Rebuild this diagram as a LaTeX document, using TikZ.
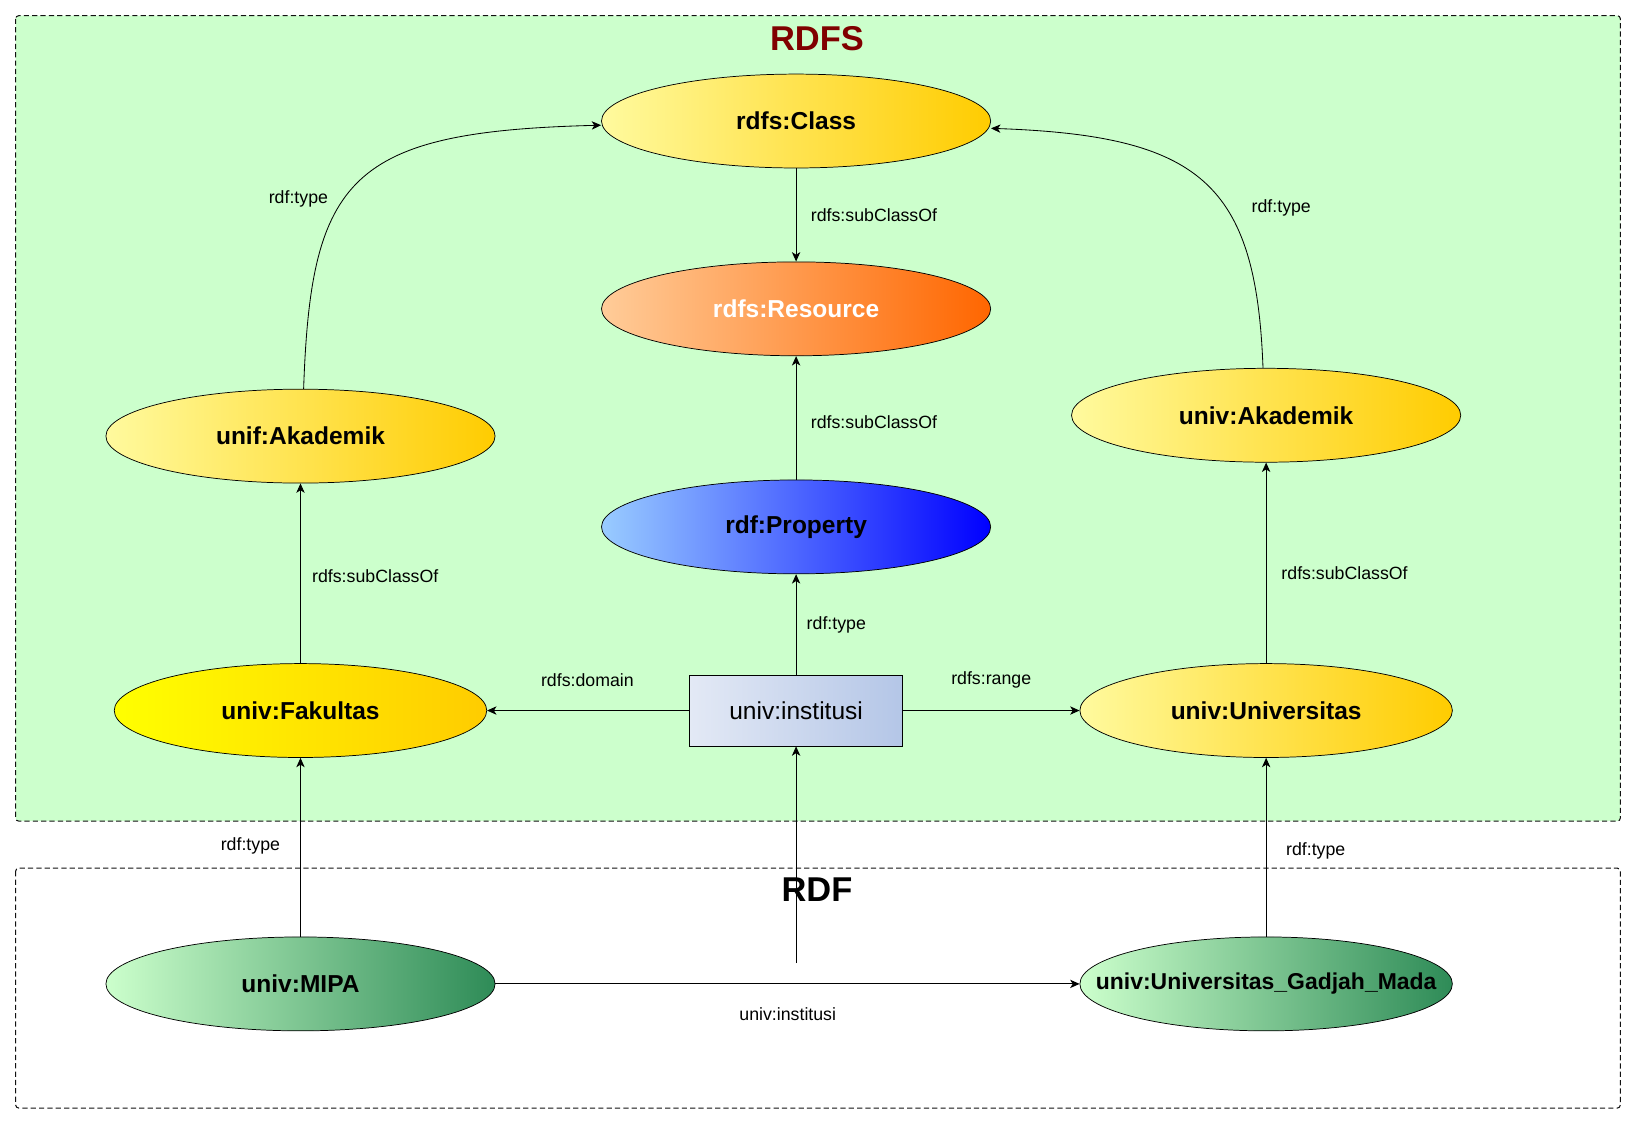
\documentclass[tikz,border=0pt]{standalone}
\usepackage{fontspec}
\setmainfont{Liberation Sans}
\usetikzlibrary{shapes.geometric,arrows.meta,calc}
\definecolor{rdfsbg}{HTML}{CCFFCC}
\definecolor{yl}{HTML}{FFFA9E}
\definecolor{yr}{HTML}{FFCC00}
\definecolor{fl}{HTML}{FFFF00}
\definecolor{ol}{HTML}{FFCC99}
\definecolor{or}{HTML}{FF6600}
\definecolor{bl}{HTML}{99CCFF}
\definecolor{br}{HTML}{0000FF}
\definecolor{gl}{HTML}{CCFFCC}
\definecolor{gr}{HTML}{2E8B57}
\definecolor{il}{HTML}{E3E9F5}
\definecolor{ir}{HTML}{B4C6E7}
\definecolor{titlered}{HTML}{800000}
\definecolor{framegray}{HTML}{111111}
\begin{document}
\begin{tikzpicture}[x=1pt,y=-1pt,
  frame/.style={draw=framegray, line width=1pt, dash pattern=on 5pt off 3pt, rounded corners=3pt},
  ell/.style={ellipse, draw=black, line width=0.7pt, inner sep=0pt, minimum width=373pt, minimum height=90pt,
    font=\bfseries\fontsize{23.5}{28}\selectfont},
  narrow/.style={minimum width=357pt},
  yel/.style={left color=yl, right color=yr},
  fak/.style={left color=fl, right color=yr},
  org/.style={left color=ol, right color=or, text=white},
  blu/.style={left color=bl, right color=br},
  grn/.style={left color=gl, right color=gr},
  boxnode/.style={rectangle, draw=black, line width=0.7pt, minimum width=204pt, minimum height=68pt, inner sep=0pt,
    left color=il, right color=ir, font=\fontsize{23.5}{28}\selectfont},
  lbl/.style={font=\fontsize{17}{20}\selectfont, inner sep=0pt},
  ttl/.style={font=\bfseries\fontsize{33}{38}\selectfont, inner sep=0pt},
  arr/.style={-{Stealth[length=9pt,width=8pt,inset=2.5pt]}, line width=0.8pt},
]
\useasboundingbox (0,0) rectangle (1568,1078);
% frames
\draw[frame, fill=rdfsbg] (15,15) rectangle (1553,787);
\draw[frame, fill=white] (15,832) rectangle (1553,1062);
\node[ttl, text=titlered] (trdfs) at (783,37) {RDFS};
\node[ttl] (trdf) at (783,853) {RDF};

% nodes
\node[ell, yel] (class) at (763,116) {rdfs:Class};
\node[ell, org] (res) at (763,296) {rdfs:Resource};
\node[ell, blu] (prop) at (763,505) {rdf:Property};
\node[ell, yel] (unifak) at (288,418) {unif:Akademik};
\node[ell, yel] (univak) at (1213.5,398) {univ:Akademik};
\node[ell, narrow, fak] (fakul) at (288,681) {univ:Fakultas};
\node[ell, narrow, yel] (univ) at (1213.5,681) {univ:Universitas};
\node[boxnode] (inst) at (763,681) {univ:institusi};
\node[ell, grn] (mipa) at (288,943) {univ:MIPA};
\node[ell, narrow, grn] (ugm) at (1213.5,943) {};
\node[font=\bfseries\fontsize{22}{26}\selectfont, inner sep=0pt] (ugmtext) at (ugm.center) {univ:Universitas\_Gadjah\_Mada};
\coordinate (instfoot) at (763,923);

% edges
\draw[arr] (class) -- (res);
\draw[arr] (prop) -- (res);
\draw[arr] (inst) -- (prop);
\draw[arr] (inst) -- (fakul);
\draw[arr] (inst) -- (univ);
\draw[arr] (fakul) -- (unifak);
\draw[arr] (univ) -- (univak);
\draw[arr] (mipa) -- (fakul);
\draw[arr] (ugm) -- (univ);
\draw[arr] (mipa) -- (ugm);
\draw[arr] (instfoot) -- (inst);
\draw[arr] ($(unifak.north)+(3,0)$) .. controls (298,170) and (335,126) .. ($(class.west)+(0,4)$);
\draw[arr] ($(univak.north)+(-3,0)$) .. controls (1204,175) and (1150,130) .. ($(class.east)+(0,7)$);

% labels
\node[lbl, anchor=west] (l1) at (777,206) {rdfs:subClassOf};
\node[lbl, anchor=west] (l2) at (777,405) {rdfs:subClassOf};
\node[lbl, anchor=west] (l3) at (773,599) {rdf:type};
\node[lbl] (l4) at (563,652) {rdfs:domain};
\node[lbl] (l5) at (950,652) {rdfs:range};
\node[lbl, anchor=west] (l6) at (299,552) {rdfs:subClassOf};
\node[lbl, anchor=west] (l7) at (1228,549) {rdfs:subClassOf};
\node[lbl] (l8) at (286,191) {rdf:type};
\node[lbl] (l9) at (1228,199) {rdf:type};
\node[lbl] (l10) at (240,811) {rdf:type};
\node[lbl] (l11) at (1261,816) {rdf:type};
\node[lbl] (l12) at (755,972) {univ:institusi};
\end{tikzpicture}
\end{document}
